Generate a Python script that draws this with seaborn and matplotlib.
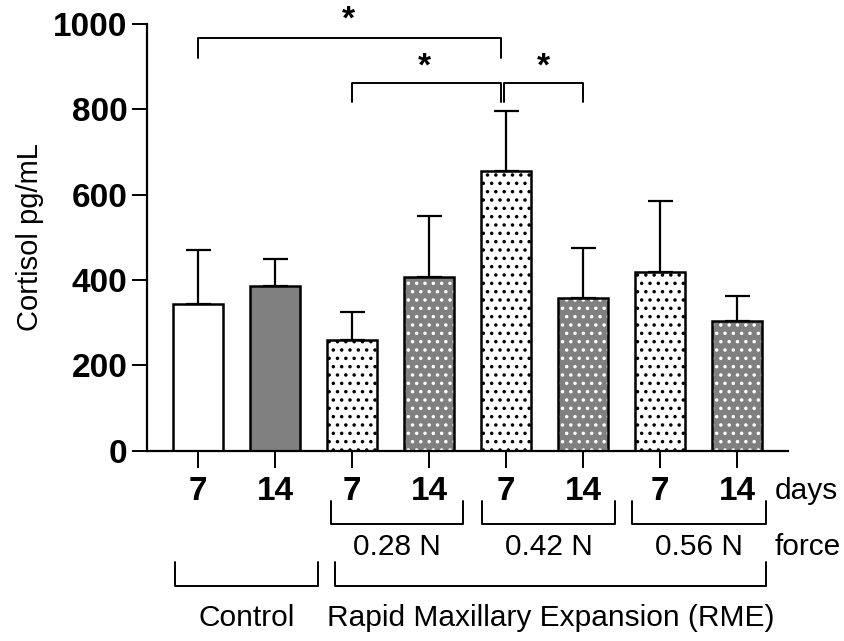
import matplotlib.pyplot as plt
import matplotlib as mpl
import pandas as pd
import seaborn as sns

# values
conditions = ['C7', 'C14', 'A7', 'A14', 'B7', 'B14', 'D7', 'D14']
day_labels = ['7', '14', '7', '14', '7', '14', '7', '14']
day_group = ['7', '14', '7', '14', '7', '14', '7', '14']
means = [344, 386, 260, 406, 655, 358, 418, 303]
sds = [127, 64, 65, 143, 140, 118, 168, 60]
hatched = [False, False, True, True, True, True, True, True]

force_labels = ['0.28 N', '0.42 N', '0.56 N']
force_spans = [(1.73, 3.44), (3.69, 5.42), (5.64, 7.38)]
group_labels = ['Control', 'Rapid Maxillary Expansion (RME)']
group_spans = [(-0.30, 1.56), (1.78, 7.38)]

sns.set_style('ticks', {'axes.edgecolor': 'black', 'text.color': 'black',
                        'axes.labelcolor': 'black', 'xtick.color': 'black',
                        'ytick.color': 'black'})
mpl.rcParams['font.family'] = ['Liberation Sans', 'DejaVu Sans']
mpl.rcParams['hatch.linewidth'] = 1.3

df = pd.DataFrame({'cond': conditions, 'day': day_group, 'mean': means, 'sd': sds})
palette = {'7': 'white', '14': '#808080'}

fig = plt.figure(figsize=(8.45, 6.41), dpi=100)
ax = fig.add_axes([0.174, 0.2969, 0.7585, 0.6657])

# fill layer (hatch colour = edgecolor)
sns.barplot(data=df, x='cond', y='mean', hue='day', palette=palette, dodge=False,
            width=0.65, errorbar=None, legend=False, linewidth=0, ax=ax)
fill_patches = list(ax.patches)
for p in fill_patches:
    fc = mpl.colors.to_hex(p.get_facecolor())
    idx = int(round(p.get_x() + p.get_width() / 2))
    if hatched[idx]:
        p.set_hatch('..')
        p.set_edgecolor('white' if fc != '#ffffff' else 'black')
    p.set_linewidth(0)

# error bars (upper only)
ax.errorbar(range(len(means)), means, yerr=[[0] * len(sds), sds], fmt='none',
            ecolor='black', elinewidth=1.6, capsize=9, capthick=1.6, zorder=1)

# outline layer
sns.barplot(data=df, x='cond', y='mean', fill=False, color='black', width=0.65,
            errorbar=None, linewidth=1.8, ax=ax)

ax.set_ylim(0, 1000)
ax.set_xlim(-0.66, 7.66)
ax.set_yticks([0, 200, 400, 600, 800, 1000])
ax.set_xticks(range(len(day_labels)))
ax.set_xticklabels(day_labels)
for lab in ax.get_xticklabels() + ax.get_yticklabels():
    lab.set_fontweight('bold')
    lab.set_fontsize(24)
ax.tick_params(axis='y', length=11, width=1.4, pad=3, colors='black')
ax.tick_params(axis='x', length=12, width=1.4, pad=6, colors='black')
for s in ['left', 'bottom']:
    ax.spines[s].set_linewidth(1.6)
    ax.spines[s].set_color('black')
sns.despine(ax=ax)
ax.set_xlabel('')
ax.set_ylabel('Cortisol pg/mL', fontsize=21, color='black')
ax.yaxis.set_label_coords(-0.16, 0.5)

kw = dict(color='black', lw=1.4, clip_on=False)
# significance brackets
ax.plot([0, 0, 3.93, 3.93], [921, 968, 968, 921], **kw)
ax.plot([2, 2, 3.93, 3.93], [817, 862, 862, 817], **kw)
ax.plot([3.97, 3.97, 5, 5], [817, 862, 862, 817], **kw)
star = dict(ha='center', va='center', fontsize=24, fontweight='bold',
            color='black', clip_on=False)
ax.text(1.95, 1010, '*', **star)
ax.text(2.94, 898, '*', **star)
ax.text(4.49, 898, '*', **star)

# lower annotations
txt = dict(va='center', fontsize=21.5, color='black')
ax.text(7.49, -94, 'days', ha='left', **txt)
ax.text(7.49, -226, 'force', ha='left', **txt)
for lab, (a, b) in zip(force_labels, force_spans):
    ax.plot([a, a, b, b], [-117, -172, -172, -117], **kw)
    ax.text((a + b) / 2, -226, lab, ha='center', **txt)
for lab, (a, b) in zip(group_labels, group_spans):
    ax.plot([a, a, b, b], [-261, -316, -316, -261], **kw)
    ax.text((a + b) / 2, -392, lab, ha='center', **txt)

fig.savefig('out.png', dpi=100)
